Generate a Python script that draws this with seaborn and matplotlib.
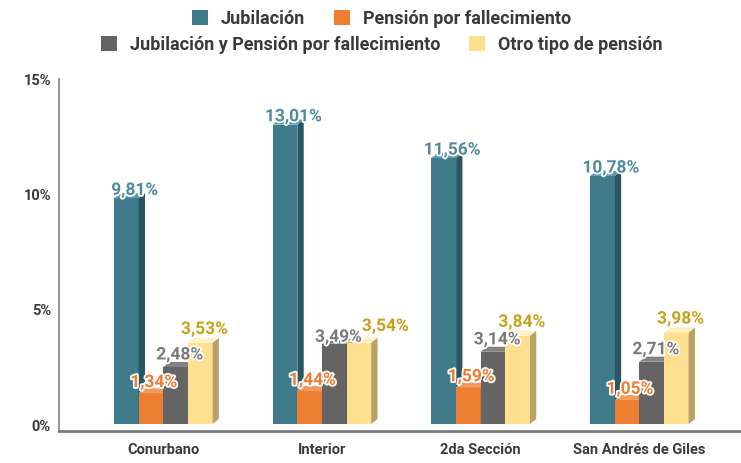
import pandas as pd
import seaborn as sns
import matplotlib.pyplot as plt
import matplotlib.patheffects as pe
from matplotlib.patches import Polygon, Patch

# data
regions = ['Conurbano', 'Interior', '2da Sección', 'San Andrés de Giles']
series = ['Jubilación', 'Pensión por fallecimiento',
          'Jubilación y Pensión por fallecimiento', 'Otro tipo de pensión']
jubilacion = [9.81, 13.01, 11.56, 10.78]
pension = [1.34, 1.44, 1.59, 1.05]
jub_y_pension = [2.48, 3.49, 3.14, 2.71]
otro = [3.53, 3.54, 3.84, 3.98]
yticks = [0, 5, 10, 15]

front = ['#3f7b8a', '#ed7d31', '#646464', '#ffe08f']
side = ['#2b5661', '#b85d1f', '#454545', '#b9a266']
top = ['#5f98a6', '#f29a5e', '#828282', '#fff0c4']
label_col = ['#4e8b9b', '#ef7d32', '#7a7a7a', '#c8a21c']
# label offsets (points) per series, right / up from the bar top
lab_dx = [6, 2, 3, 3]
lab_dy = [2, 4, 5, 6]

rows = []
for s, vals in zip(series, [jubilacion, pension, jub_y_pension, otro]):
    for r, v in zip(regions, vals):
        rows.append({'region': r, 'serie': s, 'valor': v})
df = pd.DataFrame(rows)

sns.set_style('white')
plt.rcParams['font.family'] = ['Roboto', 'DejaVu Sans']

fig = plt.figure(figsize=(7.41, 4.64), dpi=100)
ax = fig.add_axes([0.080, 0.069, 0.92, 0.759])

sns.barplot(data=df, x='region', y='valor', hue='serie', hue_order=series,
            palette=front, width=0.62, saturation=1, legend=False, ax=ax,
            linewidth=0, errorbar=None)

dx, dy = 0.04, 0.22
heights = [[b.get_height() for b in c] for c in ax.containers]
for i, cont in enumerate(ax.containers):
    for j, bar in enumerate(cont):
        bar.set_zorder(2 + 2 * i)
        x0 = bar.get_x()
        w = bar.get_width()
        h = bar.get_height()
        x1 = x0 + w
        ax.add_patch(Polygon([(x1, 0), (x1 + dx, dy), (x1 + dx, h + dy), (x1, h)],
                             closed=True, facecolor=side[i], lw=0, zorder=2.5 + 2 * i))
        ax.add_patch(Polygon([(x0, h), (x0 + dx, h + dy), (x1 + dx, h + dy), (x1, h)],
                             closed=True, facecolor=top[i], lw=0, zorder=2.5 + 2 * i))
        ox, oy = lab_dx[i], lab_dy[i]
        # nudge labels of neighbouring bars with almost equal height apart
        if i < 3 and abs(heights[i + 1][j] - h) < 0.3:
            oy -= 4
        if i > 0 and abs(heights[i - 1][j] - h) < 0.3:
            ox += 16
            oy += 2
        ax.annotate(f'{h:.2f}%'.replace('.', ','), (x0 + w / 2, h + dy),
                    xytext=(ox, oy), textcoords='offset points',
                    ha='center', va='center', fontsize=12.5, fontweight='bold',
                    color=label_col[i], zorder=20,
                    path_effects=[pe.withStroke(linewidth=2.5, foreground='white')])

ax.set_xlim(-0.655, 3.64)
ax.set_ylim(-0.3, 15)
ax.set_yticks(yticks)
ax.set_yticklabels([f'{t}%' for t in yticks])
ax.set_xlabel('')
ax.set_ylabel('')
ax.tick_params(axis='both', length=0, labelsize=10.5, labelcolor='#3a3a3a')
ax.tick_params(axis='x', pad=8)
ax.tick_params(axis='y', pad=6)
for lab in ax.get_xticklabels() + ax.get_yticklabels():
    lab.set_fontweight('bold')
for sp in ['top', 'right']:
    ax.spines[sp].set_visible(False)
ax.spines['left'].set_color('#9a9a9a')
ax.spines['left'].set_linewidth(1.5)
ax.spines['bottom'].set_color('#7a7a7a')
ax.spines['bottom'].set_linewidth(2)

handles = [Patch(facecolor=c, edgecolor='none') for c in front]
leg_kw = dict(ncol=2, frameon=False, handlelength=0.9, handleheight=0.9,
              columnspacing=1.6, handletextpad=0.7,
              prop={'weight': 'bold', 'size': 13})
leg1 = fig.legend(handles[:2], series[:2], loc='center', bbox_to_anchor=(0.515, 0.958), **leg_kw)
leg2 = fig.legend(handles[2:], series[2:], loc='center', bbox_to_anchor=(0.515, 0.902), **leg_kw)
for leg in (leg1, leg2):
    for t in leg.get_texts():
        t.set_color('#3a3a3a')

fig.savefig('out.png', dpi=100)
